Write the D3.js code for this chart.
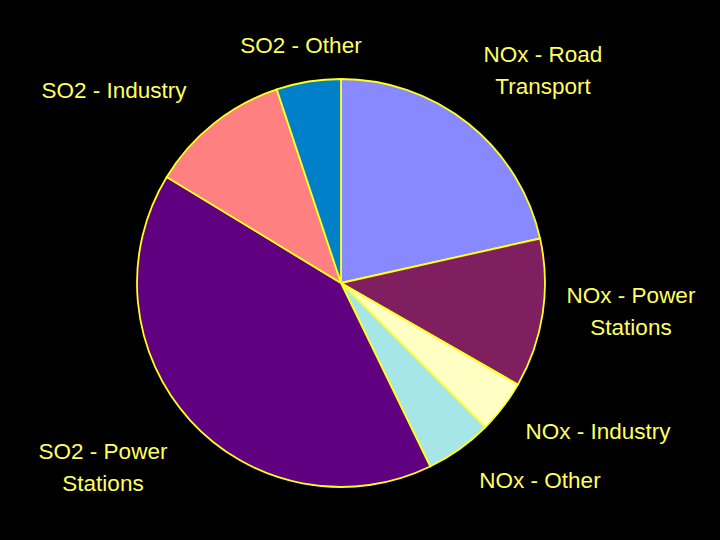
<!DOCTYPE html>
<html>
<head>
<meta charset="utf-8">
<script src="https://cdn.jsdelivr.net/npm/d3@7"></script>
<style>
  html, body { margin: 0; padding: 0; background: #000; }
  svg { display: block; }
</style>
</head>
<body>
<svg id="svg"></svg>
<script>
// share of emissions (percent)
const categories = [
  "NOx - Road Transport",
  "NOx - Power Stations",
  "NOx - Industry",
  "NOx - Other",
  "SO2 - Power Stations",
  "SO2 - Industry",
  "SO2 - Other"
];
const values = [21.5, 11.8, 4.2, 5.3, 40.9, 11.2, 5.1];
const colors = ["#8888ff", "#801f60", "#ffffc4", "#a6e6e6", "#600080", "#ff8080", "#0080c8"];
// label lines (Excel breaks the long ones)
const labelLines = [
  ["NOx - Road", "Transport"],
  ["NOx - Power", "Stations"],
  ["NOx - Industry"],
  ["NOx - Other"],
  ["SO2 - Power", "Stations"],
  ["SO2 - Industry"],
  ["SO2 - Other"]
];

const width = 720, height = 540;
const cx = 341, cy = 283, radius = 204;

// where each label sits (center x, first baseline y)
const labelPos = [
  [543, 62], [631, 303], [598, 439], [540, 488],
  [103, 459], [114, 98], [301, 53]
];

const svg = d3.select('#svg')
  .attr('width', width)
  .attr('height', height);

svg.append('rect')
  .attr('width', width)
  .attr('height', height)
  .attr('fill', '#000');

const pie = d3.pie().sort(null).value(d => d.value);
const arc = d3.arc().innerRadius(0).outerRadius(radius);

const data = categories.map((c, i) => ({name: c, value: values[i], color: colors[i]}));

svg.append('g')
  .attr('transform', `translate(${cx},${cy})`)
  .selectAll('path')
  .data(pie(data))
  .enter()
  .append('path')
    .attr('d', arc)
    .attr('fill', d => d.data.color)
    .attr('stroke', '#ffff20')
    .attr('stroke-width', 1.8)
    .attr('stroke-linejoin', 'round');

const labels = svg.append('g')
  .selectAll('text')
  .data(labelLines)
  .enter()
  .append('text')
    .attr('x', (d, i) => labelPos[i][0])
    .attr('y', (d, i) => labelPos[i][1])
    .attr('text-anchor', 'middle')
    .attr('fill', '#ffff60')
    .style('font-family', 'Liberation Sans, Arial, sans-serif')
    .style('font-size', '22.5px');

labels.selectAll('tspan')
  .data(d => d)
  .enter()
  .append('tspan')
    .attr('x', function() { return d3.select(this.parentNode).attr('x'); })
    .attr('dy', (d, i) => i === 0 ? 0 : 32)
    .text(d => d);
</script>
</body>
</html>
